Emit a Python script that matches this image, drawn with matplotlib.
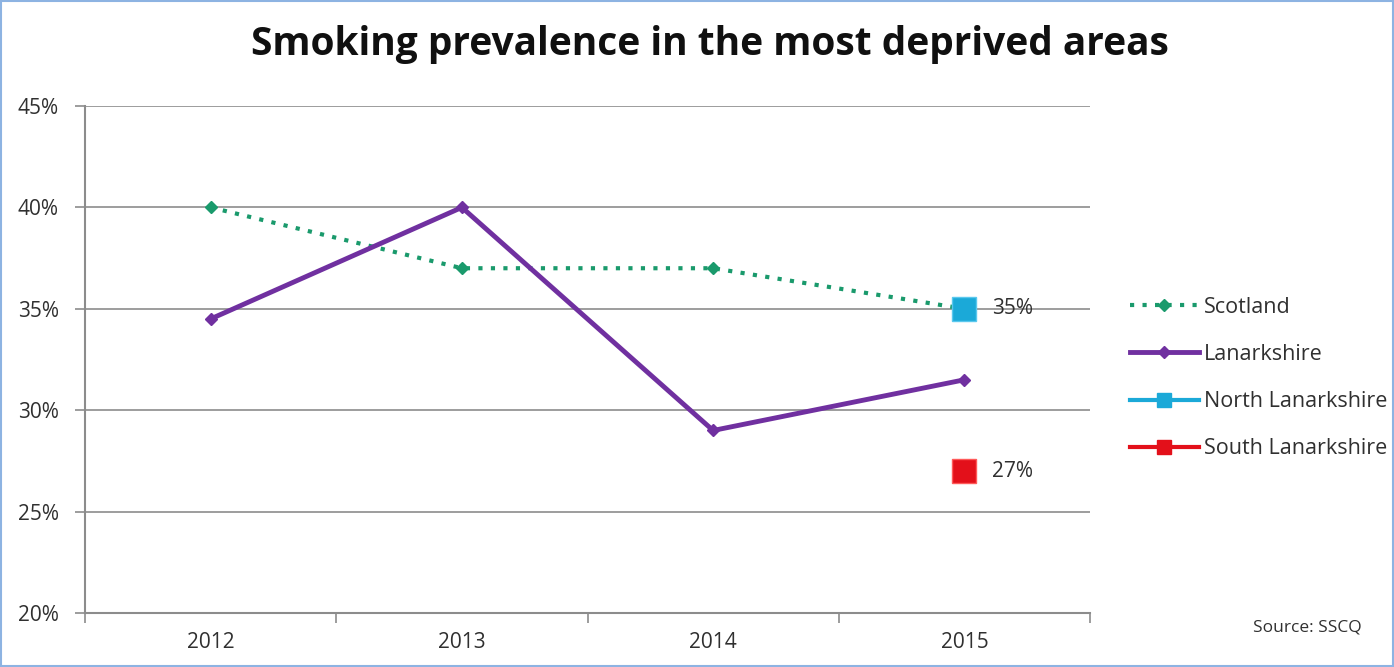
import numpy as np
import matplotlib.pyplot as plt
from matplotlib.lines import Line2D
from matplotlib.patches import Rectangle

plt.rcParams['font.family'] = ['Open Sans', 'DejaVu Sans']

years = ['2012', '2013', '2014', '2015']
scotland = [40, 37, 37, 35]
lanarkshire = [34.5, 40, 29, 31.5]
north_lan = [np.nan, np.nan, np.nan, 35]
south_lan = [np.nan, np.nan, np.nan, 27]
y_ticks = [20, 25, 30, 35, 40, 45]

green = '#1a9a6c'
purple = '#7030a0'
cyan = '#1ba9d8'
red = '#e3101a'
txt = '#303030'

fig = plt.figure(figsize=(13.94, 6.67), dpi=100)
ax = fig.add_axes([85 / 1394, 1 - 613 / 667, 1005 / 1394, 507 / 667])

x = np.arange(len(years)) + 0.5
ax.plot(x, scotland, color=green, lw=3, ls=(0, (1, 2)), marker='D', ms=6, zorder=3)
ax.plot(x, lanarkshire, color=purple, lw=3.5, marker='D', ms=6, zorder=3)
ax.plot(x, north_lan, color=cyan, lw=3, marker='s', ms=17, mec='#5ac8ee', zorder=4)
ax.plot(x, south_lan, color=red, lw=3, marker='s', ms=17, mec='#ff5a5a', zorder=4)

ax.text(x[3] + 0.11, north_lan[3], '35%', va='center', ha='left', fontsize=15, color=txt)
ax.text(x[3] + 0.11, south_lan[3], '27%', va='center', ha='left', fontsize=15, color=txt)

ax.set_xlim(0, 4)
ax.set_ylim(20, 45)
ax.set_yticks(y_ticks)
ax.set_yticklabels([f'{v}%' for v in y_ticks])
ax.yaxis.grid(True, color='#8c8c8c', lw=1.2)
ax.set_axisbelow(True)
ax.set_xticks([0, 1, 2, 3, 4])
ax.set_xticklabels([])
ax.set_xticks(x, minor=True)
ax.set_xticklabels(years, minor=True)
ax.tick_params(axis='x', which='minor', length=0, pad=14, labelsize=15, labelcolor=txt)
ax.tick_params(axis='x', which='major', length=7, color='#8c8c8c', width=1.2)
ax.tick_params(axis='y', length=7, color='#8c8c8c', width=1.2, labelsize=15, labelcolor=txt, pad=12)
for s in ['top', 'right']:
    ax.spines[s].set_visible(False)
for s in ['left', 'bottom']:
    ax.spines[s].set_color('#8c8c8c')
    ax.spines[s].set_linewidth(1.5)

fig.text(710 / 1394, 1 - 45 / 667, 'Smoking prevalence in the most deprived areas',
         ha='center', va='center', fontsize=28, fontweight='bold', color='#101010')

handles = [
    Line2D([], [], color=green, lw=3, ls=(0, (1, 2)), marker='D', ms=6),
    Line2D([], [], color=purple, lw=3.5, marker='D', ms=6),
    Line2D([], [], color=cyan, lw=3, marker='s', ms=10),
    Line2D([], [], color=red, lw=3, marker='s', ms=10),
]
fig.legend(handles, ['Scotland', 'Lanarkshire', 'North Lanarkshire', 'South Lanarkshire'],
           loc='center left', bbox_to_anchor=(1130 / 1394, 1 - 378 / 667), frameon=False,
           fontsize=15.5, handlelength=3.2, handletextpad=0.25, labelspacing=1.22,
           labelcolor=txt, borderaxespad=0, borderpad=0)

fig.text(1307 / 1394, 1 - 628 / 667, 'Source: SSCQ', ha='center', va='center', fontsize=12.5, color=txt)

fig.add_artist(Rectangle((0.001, 0.001), 0.998, 0.997, transform=fig.transFigure,
                         fill=False, ec='#8db3e2', lw=1.5))

fig.savefig('out.png', dpi=100)
